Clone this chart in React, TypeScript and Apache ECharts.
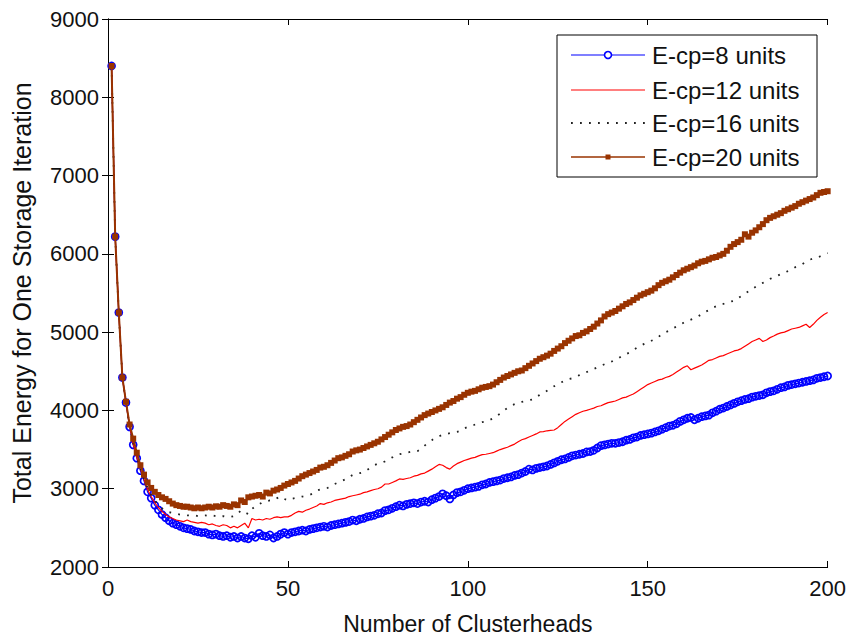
import React, { useEffect, useRef } from "react";
import * as echarts from "echarts";

// Number of clusterheads (x axis domain 1..200)
const clusterheads: number[] = Array.from({ length: 200 }, (_, i) => i + 1);

const xTicks = [0, 50, 100, 150, 200];
const yTicks = [2000, 3000, 4000, 5000, 6000, 7000, 8000, 9000];

const seriesNames = ["E-cp=8 units", "E-cp=12 units", "E-cp=16 units", "E-cp=20 units"];

const ecp8: number[] = [
  8400, 6220, 5250, 4420, 4100, 3790, 3560, 3390, 3230, 3100,
  2960, 2880, 2790, 2730, 2670, 2630, 2590, 2560, 2540, 2520,
  2500, 2490, 2480, 2460, 2450, 2440, 2440, 2420, 2410, 2420,
  2400, 2390, 2400, 2380, 2390, 2370, 2390, 2370, 2360, 2400,
  2380, 2430, 2400, 2390, 2410, 2370, 2390, 2420, 2440, 2420,
  2440, 2450, 2460, 2470, 2460, 2480, 2490, 2500, 2510, 2520,
  2510, 2530, 2540, 2550, 2560, 2570, 2580, 2600, 2590, 2610,
  2620, 2640, 2650, 2660, 2680, 2690, 2720, 2730, 2750, 2770,
  2790, 2780, 2800, 2810, 2820, 2810, 2830, 2840, 2830, 2860,
  2880, 2900, 2935, 2910, 2870, 2920, 2950, 2960, 2980, 3000,
  3010, 3020, 3030, 3050, 3060, 3080, 3090, 3100, 3110, 3130,
  3140, 3150, 3170, 3180, 3200, 3220, 3250, 3240, 3260, 3270,
  3280, 3290, 3310, 3330, 3350, 3370, 3380, 3400, 3420, 3430,
  3440, 3450, 3470, 3475, 3490, 3520, 3550, 3560, 3570, 3580,
  3580, 3590, 3600, 3620, 3630, 3650, 3660, 3680, 3690, 3700,
  3710, 3725, 3740, 3760, 3780, 3800, 3810, 3830, 3860, 3880,
  3900, 3910, 3880, 3900, 3920, 3930, 3940, 3970, 3990, 4015,
  4030, 4050, 4070, 4090, 4110, 4125, 4140, 4150, 4170, 4180,
  4190, 4200, 4225, 4240, 4250, 4270, 4290, 4300, 4320, 4330,
  4340, 4350, 4360, 4370, 4380, 4390, 4410, 4420, 4430, 4440,
];

const ecp12: number[] = [
  8400, 6220, 5250, 4420, 4100, 3800, 3570, 3400, 3250, 3120,
  2990, 2900, 2820, 2760, 2710, 2670, 2640, 2620, 2600, 2590,
  2580, 2600, 2580, 2570, 2560, 2570, 2560, 2540, 2550, 2530,
  2520, 2540, 2530, 2500, 2520, 2500, 2530, 2560, 2500, 2620,
  2600, 2610, 2600, 2620, 2610, 2630, 2640, 2630, 2640, 2640,
  2660, 2690, 2710, 2700, 2725, 2740, 2760, 2780, 2810, 2800,
  2820, 2830, 2850, 2860, 2870, 2880, 2900, 2910, 2920, 2930,
  2950, 2960, 2975, 2990, 3000, 3020, 3060, 3060, 3080, 3100,
  3125, 3120, 3130, 3140, 3160, 3170, 3190, 3200, 3225, 3250,
  3280, 3310, 3300, 3270, 3250, 3290, 3320, 3340, 3360, 3375,
  3390, 3400, 3420, 3435, 3440, 3450, 3460, 3480, 3500, 3515,
  3530, 3550, 3570, 3600, 3625, 3640, 3660, 3680, 3700, 3725,
  3730, 3740, 3745, 3750, 3780, 3820, 3860, 3890, 3920, 3950,
  3970, 3990, 4000, 4015, 4030, 4050, 4060, 4080, 4100, 4110,
  4120, 4140, 4160, 4170, 4190, 4210, 4240, 4270, 4300, 4330,
  4350, 4370, 4390, 4400, 4420, 4435, 4460, 4490, 4520, 4550,
  4570, 4520, 4540, 4560, 4580, 4610, 4640, 4650, 4670, 4690,
  4700, 4720, 4740, 4760, 4770, 4790, 4820, 4850, 4880, 4900,
  4920, 4880, 4900, 4930, 4950, 4975, 4990, 5000, 5020, 5040,
  5050, 5060, 5080, 5100, 5060, 5100, 5150, 5190, 5225, 5250,
];

const ecp16: number[] = [
  8400, 6220, 5250, 4420, 4100, 3800, 3580, 3410, 3260, 3130,
  3010, 2920, 2850, 2790, 2750, 2720, 2700, 2690, 2680, 2670,
  2670, 2660, 2660, 2660, 2650, 2660, 2660, 2650, 2660, 2650,
  2640, 2650, 2640, 2640, 2650, 2680, 2725, 2700, 2675, 2740,
  2780, 2800, 2830, 2840, 2850, 2850, 2880, 2900, 2870, 2850,
  2870, 2880, 2890, 2900, 2910, 2920, 2940, 2975, 2990, 3000,
  3010, 3030, 3060, 3080, 3100, 3120, 3150, 3175, 3190, 3200,
  3210, 3240, 3270, 3300, 3320, 3330, 3350, 3375, 3400, 3430,
  3440, 3450, 3460, 3470, 3470, 3480, 3510, 3550, 3590, 3620,
  3650, 3670, 3690, 3700, 3710, 3720, 3725, 3740, 3770, 3790,
  3800, 3820, 3840, 3850, 3860, 3875, 3900, 3930, 3960, 4000,
  4030, 4060, 4080, 4100, 4110, 4120, 4130, 4140, 4170, 4200,
  4220, 4250, 4280, 4310, 4340, 4360, 4380, 4400, 4410, 4430,
  4450, 4470, 4490, 4510, 4530, 4550, 4570, 4590, 4610, 4625,
  4650, 4670, 4700, 4720, 4740, 4770, 4800, 4825, 4850, 4870,
  4890, 4910, 4940, 4975, 5000, 5020, 5050, 5070, 5100, 5120,
  5140, 5160, 5180, 5200, 5230, 5260, 5280, 5310, 5330, 5350,
  5360, 5380, 5390, 5400, 5430, 5460, 5490, 5520, 5550, 5580,
  5610, 5630, 5650, 5680, 5700, 5720, 5740, 5760, 5780, 5800,
  5830, 5850, 5870, 5900, 5925, 5940, 5950, 5970, 5990, 6010,
];

const ecp20: number[] = [
  8400, 6220, 5250, 4420, 4110, 3820, 3640, 3460, 3300, 3180,
  3080, 3010, 2960, 2920, 2890, 2870, 2840, 2810, 2790, 2780,
  2770, 2770, 2760, 2750, 2760, 2750, 2760, 2770, 2760, 2775,
  2770, 2790, 2780, 2770, 2800, 2790, 2850, 2830, 2890, 2900,
  2910, 2920, 2900, 2950, 2940, 2975, 2990, 3010, 3040, 3060,
  3080, 3100, 3130, 3160, 3180, 3200, 3220, 3240, 3270, 3280,
  3300, 3330, 3360, 3390, 3400, 3420, 3440, 3475, 3490, 3500,
  3520, 3540, 3560, 3580, 3600, 3630, 3660, 3690, 3720, 3750,
  3770, 3790, 3800, 3820, 3850, 3880, 3910, 3940, 3960, 3980,
  4000, 4020, 4040, 4070, 4100, 4120, 4150, 4170, 4200, 4225,
  4240, 4250, 4270, 4290, 4300, 4310, 4330, 4360, 4390, 4420,
  4440, 4460, 4480, 4500, 4510, 4540, 4570, 4600, 4630, 4660,
  4680, 4700, 4725, 4760, 4790, 4820, 4860, 4890, 4920, 4950,
  4960, 4990, 5010, 5040, 5070, 5110, 5150, 5200, 5230, 5250,
  5270, 5300, 5330, 5360, 5380, 5410, 5440, 5470, 5490, 5510,
  5530, 5560, 5600, 5630, 5650, 5670, 5700, 5730, 5760, 5790,
  5810, 5830, 5850, 5880, 5900, 5910, 5930, 5950, 5960, 5980,
  6000, 6040, 6090, 6125, 6150, 6180, 6250, 6220, 6270, 6300,
  6340, 6380, 6430, 6460, 6480, 6500, 6520, 6550, 6570, 6590,
  6610, 6640, 6660, 6680, 6700, 6720, 6750, 6780, 6790, 6800,
];

const FONT = "'Liberation Sans', Arial, Helvetica, sans-serif";
const BLUE = "#0000ff";
const RED = "#ff0000";
const DOT = "#222222";
const BROWN = "#993300";

export default function App() {
  const ref = useRef<HTMLDivElement>(null);

  useEffect(() => {
    if (!ref.current) return;
    const chart = echarts.init(ref.current, undefined, { renderer: "svg" });

    const pair = (arr: number[]) => clusterheads.map((x, i) => [x, arr[i]]);

    const axisCommon = {
      axisLine: { show: true, lineStyle: { color: "#000", width: 1 } },
      axisTick: { show: true, inside: true, length: 6, lineStyle: { color: "#000" } },
      splitLine: { show: false },
    };
    const plain = (v: number) => String(v);

    const lx = 571, rx = 645, tx = 652;
    const rows = [55, 90, 123, 157];
    const legendText = (i: number) => ({
      type: "text",
      z: 101,
      style: {
        x: tx,
        y: rows[i],
        text: seriesNames[i],
        font: `24px ${FONT}`,
        fill: "#111",
        verticalAlign: "middle",
        align: "left",
      },
    });
    const legendLine = (i: number, color: string, dash?: number[], w = 1) => ({
      type: "line",
      z: 101,
      shape: { x1: lx, y1: rows[i], x2: rx, y2: rows[i] },
      style: { stroke: color, lineWidth: w, lineDash: dash },
    });

    chart.setOption({
      animation: false,
      backgroundColor: "#fff",
      grid: { left: 108, right: 21, top: 19, bottom: 62, containLabel: false },
      xAxis: [
        {
          type: "value",
          min: xTicks[0],
          max: xTicks[xTicks.length - 1],
          interval: 50,
          name: "Number of Clusterheads",
          nameLocation: "middle",
          nameGap: 45,
          nameTextStyle: { fontFamily: FONT, fontSize: 23, color: "#111" },
          axisLabel: { fontFamily: FONT, fontSize: 22, color: "#111", margin: 10, formatter: plain },
          ...axisCommon,
        },
        {
          type: "value",
          position: "top",
          min: xTicks[0],
          max: xTicks[xTicks.length - 1],
          interval: 50,
          axisLabel: { show: false },
          ...axisCommon,
        },
      ],
      yAxis: [
        {
          type: "value",
          min: yTicks[0],
          max: yTicks[yTicks.length - 1],
          interval: 1000,
          name: "Total Energy for One Storage Iteration",
          nameLocation: "middle",
          nameGap: 74,
          nameTextStyle: { fontFamily: FONT, fontSize: 25, color: "#111" },
          axisLabel: { fontFamily: FONT, fontSize: 22, color: "#111", margin: 9, formatter: plain },
          ...axisCommon,
        },
        {
          type: "value",
          position: "right",
          min: yTicks[0],
          max: yTicks[yTicks.length - 1],
          interval: 1000,
          axisLabel: { show: false },
          ...axisCommon,
        },
      ],
      series: [
        {
          name: seriesNames[0],
          type: "line",
          data: pair(ecp8),
          symbol: "circle",
          symbolSize: 7,
          showAllSymbol: true,
          lineStyle: { color: BLUE, width: 1.2 },
          itemStyle: { color: "rgba(0,0,0,0)", borderColor: BLUE, borderWidth: 1.7 },
          z: 2,
        },
        {
          name: seriesNames[1],
          type: "line",
          data: pair(ecp12),
          symbol: "none",
          lineStyle: { color: RED, width: 1.2 },
          itemStyle: { color: RED },
          z: 3,
        },
        {
          name: seriesNames[2],
          type: "line",
          data: pair(ecp16),
          symbol: "none",
          lineStyle: { color: DOT, width: 1.8, type: [1.8, 7.2] },
          itemStyle: { color: DOT },
          z: 3,
        },
        {
          name: seriesNames[3],
          type: "line",
          data: pair(ecp20),
          symbol: "rect",
          symbolSize: 6,
          showAllSymbol: true,
          lineStyle: { color: BROWN, width: 2 },
          itemStyle: { color: BROWN },
          z: 4,
        },
      ],
      graphic: [
        {
          type: "rect",
          z: 100,
          shape: { x: 557, y: 35, width: 260, height: 142 },
          style: { fill: "#fff", stroke: "#000", lineWidth: 1 },
        },
        legendLine(0, BLUE, undefined, 1.2),
        { type: "circle", z: 102, shape: { cx: 608, cy: rows[0], r: 3.5 }, style: { fill: "#fff", stroke: BLUE, lineWidth: 1.6 } },
        legendLine(1, RED, undefined, 1.2),
        legendLine(2, DOT, [1.8, 7.2], 1.8),
        legendLine(3, BROWN, undefined, 1.5),
        { type: "rect", z: 102, shape: { x: 605.5, y: rows[3] - 2.5, width: 5, height: 5 }, style: { fill: BROWN } },
        legendText(0),
        legendText(1),
        legendText(2),
        legendText(3),
      ],
    });

    return () => chart.dispose();
  }, []);

  return (
    <div
      ref={ref}
      style={{ position: "absolute", left: 0, top: 0, width: 849, height: 640 }}
    />
  );
}
